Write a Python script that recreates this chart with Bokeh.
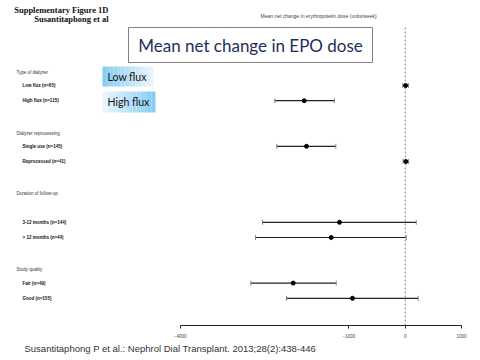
from bokeh.plotting import figure
from bokeh.models import Range1d, LinearAxis, FixedTicker, Whisker, ColumnDataSource, Label, TeeHead, Title
from bokeh.core.properties import value
from bokeh.embed import file_html
from bokeh.resources import INLINE

# ---------------- data ----------------
headings = ["Type of dialyzer", "Dialyzer reprocessing", "Duration of follow-up", "Study quality"]
heading_rows = [0, 4, 8, 13]
labels = ["Low flux (n=65)", "High flux (n=115)", "Single use (n=145)", "Reprocessed (n=41)",
          "3-12 months (n=144)", "> 12 months (n=44)", "Fair (n=49)", "Good (n=155)"]
rows = [1, 2, 5, 6, 10, 11, 14, 15]
means = [5, -1796, -1755, 10, -1169, -1316, -1991, -938]
lower = [-45, -2318, -2282, -40, -2536, -2661, -2744, -2110]
upper = [55, -1258, -1234, 60, 194, 16, -1227, 229]
ticks = [-4000, -1000, 0, 1000]
ref_value = 0

# ---------------- geometry helpers (page px -> data) ----------------
W, H = 480, 360
BOTTOM = 35
FRAME_H = H - BOTTOM
X_START, X_END = -7190.0, 1335.7
Y_TOP, Y_BOT = -4.592, 16.789


def X(px):
    return X_START + px * (X_END - X_START) / W


def Y(py):
    return Y_TOP + py * (Y_BOT - Y_TOP) / FRAME_H


p = figure(width=W, height=H, output_backend="svg", toolbar_location=None,
           x_range=Range1d(X_START, X_END), y_range=Range1d(Y_BOT, Y_TOP),
           x_axis_location=None, y_axis_location=None,
           min_border_left=0, min_border_right=0, min_border_top=0, min_border_bottom=BOTTOM)
p.outline_line_color = None
p.grid.visible = False
p.background_fill_color = "white"
p.border_fill_color = "white"

axis = LinearAxis(ticker=FixedTicker(ticks=ticks), bounds=(min(ticks), max(ticks)))
axis.axis_line_color = "#222222"
axis.axis_line_width = 1
axis.major_tick_out = 3
axis.major_tick_in = 0
axis.minor_tick_line_color = None
axis.major_tick_line_color = "#222222"
axis.major_label_text_font_size = "4.5px"
axis.major_label_text_color = "#444444"
axis.major_label_standoff = 5
axis.major_label_text_font = "Liberation Sans"
p.add_layout(axis, "below")

footer = Title(text="Susantitaphong P et al.: Nephrol Dial Transplant. 2013;28(2):438-446",
               align="left", offset=24, text_font="Liberation Sans", text_font_size="9.5px",
               text_font_style="normal", text_color="#333333", standoff=0)
p.add_layout(footer, "below")

# reference dashed line
p.segment(x0=[ref_value], x1=[ref_value], y0=[Y(27)], y1=[Y(325)],
          line_color="#555555", line_dash="2 2", line_width=0.7)

# error bars
src = ColumnDataSource(dict(y=rows, m=means, lo=lower, hi=upper))
wh = Whisker(base="y", lower="lo", upper="hi", dimension="width", source=src,
             line_color="#222222", line_width=1.2,
             upper_head=TeeHead(size=5, line_color="#888888", line_width=1),
             lower_head=TeeHead(size=5, line_color="#888888", line_width=1))
p.add_layout(wh)
p.scatter(x="m", y="y", source=src, size=4, color="black", marker="circle")

# row labels
for t, r in zip(labels, rows):
    p.add_layout(Label(x=X(22), y=r, text=t, text_font="Liberation Sans", text_font_style="bold",
                       text_font_size="4.5px", text_baseline="middle", text_color="#111111"))
for t, r in zip(headings, heading_rows):
    p.add_layout(Label(x=X(16), y=r, text=t, text_font="Liberation Sans",
                       text_font_size="4.5px", text_baseline="middle", text_color="#333333", y_offset=-2))

# title box
p.quad(left=[X(128)], right=[X(372)], top=[Y(27)], bottom=[Y(62)],
       fill_color="white", line_color="#808080", line_width=1)
p.add_layout(Label(x=X(250), y=Y(44.5), text="Mean net change in EPO dose", text_font="Lato",
                   text_font_size="17px", text_align="center", text_baseline="middle",
                   text_color="#1F2D5C"))


# gradient boxes
def grad_box(x0, x1, y0, y1, c_left, c_right, n=14):
    lefts, rights, cols = [], [], []
    for i in range(n):
        f = i / (n - 1)
        c = tuple(int(round(a + (b - a) * f)) for a, b in zip(c_left, c_right))
        lefts.append(X(x0 + (x1 - x0) * i / n))
        rights.append(X(x0 + (x1 - x0) * (i + 1) / n))
        cols.append("#%02x%02x%02x" % c)
    p.quad(left=lefts, right=rights, top=Y(y0), bottom=Y(y1), fill_color=cols, line_color=None)


dark = (135, 205, 242)
light = (232, 245, 253)
grad_box(102, 153, 66, 86, dark, light)
grad_box(102, 155, 91, 112, light, dark)
p.add_layout(Label(x=X(107), y=Y(76.5), text="Low flux", text_font="Lato", text_font_size="10.5px",
                   text_baseline="middle", text_color="#111111"))
p.add_layout(Label(x=X(107), y=Y(101.5), text="High flux", text_font="Lato", text_font_size="10.5px",
                   text_baseline="middle", text_color="#111111"))

# header texts
p.add_layout(Label(x=X(108), y=Y(9), text="Supplementary Figure 1D", text_font="Liberation Serif",
                   text_font_style="bold", text_font_size="8.5px", text_align="right",
                   text_baseline="middle", text_color="#111111"))
p.add_layout(Label(x=X(108), y=Y(18.5), text="Susantitaphong et al", text_font="Liberation Serif",
                   text_font_style="bold", text_font_size="8.5px", text_align="right",
                   text_baseline="middle", text_color="#111111"))
p.add_layout(Label(x=X(260), y=Y(15), text="Mean net change in erythropoietin dose  (units/week)",
                   text_font="Liberation Sans", text_font_size="5px",
                   text_baseline="middle", text_color="#444444"))

open("out.html", "w").write(file_html(p, INLINE))
